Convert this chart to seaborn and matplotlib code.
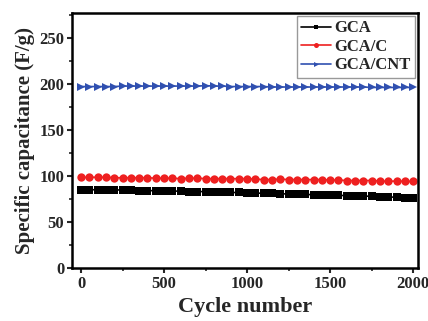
import numpy as np
import pandas as pd
import seaborn as sns
import matplotlib.pyplot as plt
from matplotlib.ticker import MultipleLocator

cycles = list(range(0, 2001, 50))
gca = [85, 85, 85, 85, 85, 84.5, 84.5, 84, 84, 84, 84, 83.5, 83.5, 83, 83, 83,
       82.5, 82.5, 82, 82, 81.5, 81.5, 81, 81, 80.5, 80.5, 80, 80, 79.5, 79.5,
       79, 79, 78.5, 78.5, 78, 78, 77.5, 77, 77, 76.5, 76]
gca_c = [98.5, 98.5, 98.5, 98.5, 98, 98, 98, 98, 98, 97.5, 97.5, 97.5, 97, 97.5,
         97.5, 97, 97, 97, 97, 97, 97, 96.5, 96, 96, 96.5, 96, 96, 96, 96, 96,
         95.5, 95.5, 95, 95, 95, 95, 94.5, 94, 94.5, 94, 94]
gca_cnt = [197, 197, 197, 197, 197, 197.5, 197.5, 197.5, 197.5, 197.5, 197.5,
           197.5, 197.5, 197.5, 197.5, 198, 197.5, 197.5, 197, 197, 197, 197,
           197, 196.5, 196.5, 196.5, 196.5, 196.5, 196.5, 196.5, 196.5, 196.5,
           196.5, 196.5, 196.5, 196, 196, 196, 196, 196, 196]

df = pd.DataFrame({
    "cycle": cycles * 3,
    "cap": gca + gca_c + gca_cnt,
    "sample": ["GCA"] * 41 + ["GCA/C"] * 41 + ["GCA/CNT"] * 41,
})

sns.set_style("ticks")
plt.rcParams['font.family'] = ['Liberation Serif', 'DejaVu Serif']
plt.rcParams['font.weight'] = 'bold'

fig = plt.figure(figsize=(4.28, 3.21), dpi=100)
ax = fig.add_axes([0.168, 0.165, 0.809, 0.795])

palette = {"GCA": "black", "GCA/C": "#ee2020", "GCA/CNT": "#3050b0"}
markers = {"GCA": "s", "GCA/C": "o", "GCA/CNT": ">"}
sns.lineplot(data=df, x="cycle", y="cap", hue="sample", style="sample",
             palette=palette, markers=markers, dashes=False, markersize=6,
             markeredgewidth=0, linewidth=1.2, ax=ax)

ax.set_xlim(-55, 2030)
ax.set_ylim(0, 277)
ax.xaxis.set_major_locator(MultipleLocator(500))
ax.xaxis.set_minor_locator(MultipleLocator(250))
ax.yaxis.set_major_locator(MultipleLocator(50))
ax.yaxis.set_minor_locator(MultipleLocator(25))
ax.tick_params(which='major', direction='out', length=3.5, width=1.5,
               labelsize=12, pad=2)
ax.tick_params(which='minor', direction='out', length=2.5, width=1.2)
for s in ax.spines.values():
    s.set_linewidth(1.8)
    s.set_color('black')
ax.set_xlabel("Cycle number", fontsize=16, fontweight='bold', labelpad=4)
ax.set_ylabel("Specific capacitance (F/g)", fontsize=15, fontweight='bold', labelpad=3)

leg = ax.legend(loc='upper right', fontsize=12, frameon=True, handlelength=1.8,
                handletextpad=0.2, borderpad=0.25, labelspacing=0.15,
                fancybox=False, borderaxespad=0.2, markerscale=0.6)
leg.get_frame().set_edgecolor('gray')
leg.get_frame().set_linewidth(1)
for t in leg.get_texts():
    t.set_fontweight('bold')

fig.savefig("out.png", dpi=100)
